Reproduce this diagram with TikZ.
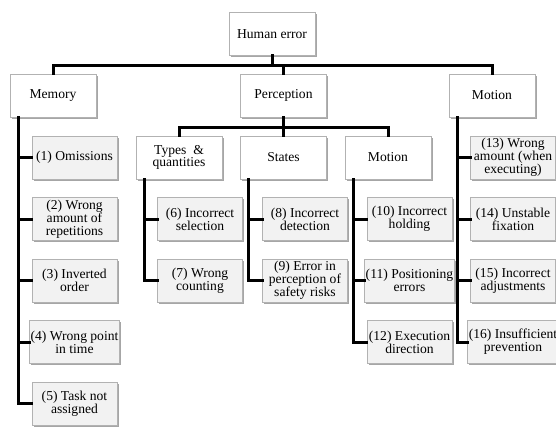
\documentclass[tikz,border=0pt]{standalone}
\usepackage{fontspec}
\setmainfont{Liberation Serif}
\usetikzlibrary{shadows}
\begin{document}
\begin{tikzpicture}[x=1pt,y=-1pt,font=\fontsize{13.6}{12.8}\selectfont,
  hdr/.style={draw=gray!60,line width=0.6pt,fill=white,minimum width=86pt,minimum height=43pt,inner sep=1pt,align=center,
    drop shadow={shadow xshift=1.5pt,shadow yshift=-1.5pt,fill=black,opacity=0.35}},
  leaf/.style={hdr,fill=black!5,minimum width=85pt},
  bus/.style={line width=3pt,line cap=rect}]
\useasboundingbox (0,0) rectangle (556,426);
% top levels
\node[hdr] (human) at (272,34) {Human error};
\node[hdr] (memory) at (53,95.5) {Memory};
\node[hdr] (perc) at (283.5,95.5) {Perception};
\node[hdr] (motion) at (492,95.5) {Motion};
\node[hdr] (types) at (179,157.5) {Types \ \&\\quantities};
\node[hdr] (states) at (283.5,157.5) {States};
\node[hdr] (motmid) at (388,157.5) {Motion};
% memory errors
\node[leaf] (m1) at (74.5,157.5) {(1) Omissions};
\node[leaf] (m2) at (74.5,219) {(2) Wrong\\amount of\\repetitions};
\node[leaf] (m3) at (74.5,280.5) {(3) Inverted\\order};
\node[leaf] (m4) at (74.5,342) {(4) Wrong point\\in time};
\node[leaf] (m5) at (74.5,403.5) {(5) Task not\\assigned};
% perception errors
\node[leaf] (p6) at (200,219) {(6) Incorrect\\selection};
\node[leaf] (p7) at (200,280.5) {(7) Wrong\\counting};
\node[leaf] (p8) at (305,219) {(8) Incorrect\\detection};
\node[leaf] (p9) at (305,280.5) {(9) Error in\\perception of\\safety risks};
\node[leaf] (p10) at (409.5,219) {(10) Incorrect\\holding};
\node[leaf] (p11) at (409.5,280.5) {(11) Positioning\\errors};
\node[leaf] (p12) at (409.5,342) {(12) Execution\\direction};
% motion errors
\node[leaf] (r13) at (513,157.5) {(13) Wrong\\amount (when\\executing)};
\node[leaf] (r14) at (513,219) {(14) Unstable\\fixation};
\node[leaf] (r15) at (513,280.5) {(15) Incorrect\\adjustments};
\node[leaf] (r16) at (513,342) {(16) Insufficient\\prevention};
% connectors
\foreach \n in {memory,perc,motion}
  \draw[bus] (human.south) -- ++(0,10) -| (\n.north);
\foreach \n in {types,states,motmid}
  \draw[bus] (perc.south) -- ++(0,10) -| (\n.north);
\foreach \n in {m1,m2,m3,m4,m5}
  \draw[bus] ([xshift=8.5pt]memory.south west) |- (\n.west);
\foreach \n in {p6,p7}
  \draw[bus] ([xshift=8.5pt]types.south west) |- (\n.west);
\foreach \n in {p8,p9}
  \draw[bus] ([xshift=8.5pt]states.south west) |- (\n.west);
\foreach \n in {p10,p11,p12}
  \draw[bus] ([xshift=8.5pt]motmid.south west) |- (\n.west);
\foreach \n in {r13,r14,r15,r16}
  \draw[bus] ([xshift=8.5pt]motion.south west) |- (\n.west);
\end{tikzpicture}
\end{document}
